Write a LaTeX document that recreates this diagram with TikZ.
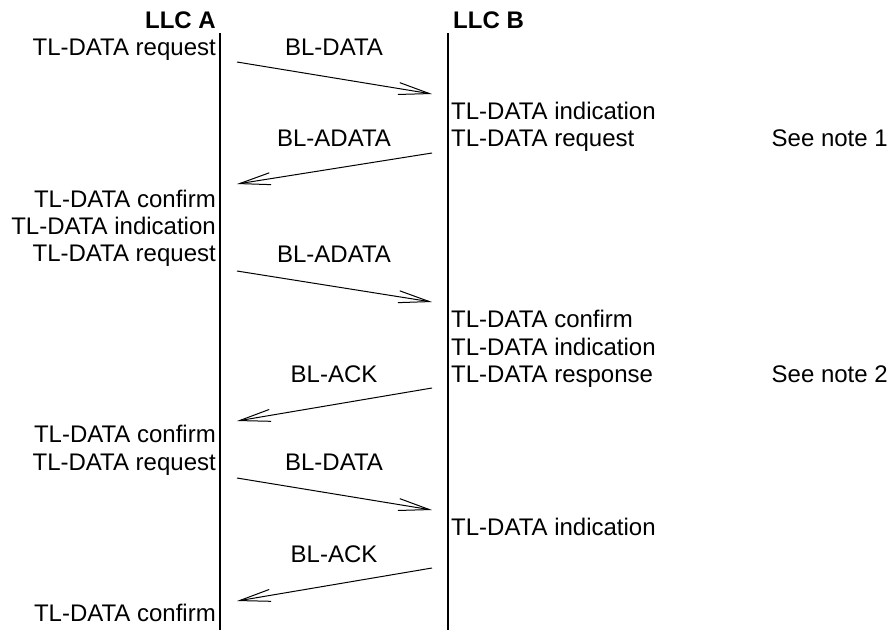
\documentclass[tikz,border=0pt]{standalone}
\usepackage{fontspec}
\setmainfont{Liberation Sans}
\usetikzlibrary{arrows.meta}

\begin{document}
\begin{tikzpicture}[x=1pt,y=-1pt,font=\fontsize{24}{28}\selectfont,
    every node/.style={inner sep=0pt},
    primA/.style={anchor=base east},
    primB/.style={anchor=base west},
    pdu/.style={anchor=base},
    head/.style={font=\fontsize{24}{28}\selectfont\bfseries},
    life/.style={line width=2.2pt},
    msg/.style={line width=1pt,-{Straight Barb[length=31pt,width=12pt]}}]
        \useasboundingbox (0,0) rectangle (891,630);
        % entities and lifelines
        \node[primA,head] (llcA) at (216,28) {LLC A};
        \node[primB,head] (llcB) at (453,28) {LLC B};
        \coordinate (Atop) at (220,33);
        \coordinate (Abot) at (220,630);
        \coordinate (Btop) at (448,33);
        \coordinate (Bbot) at (448,630);
        \draw[life] (Atop) -- (Abot);
        \draw[life] (Btop) -- (Bbot);
        % primitives at LLC A
        \node[primA] (reqA1) at (216,55) {TL-DATA request};
        \node[primA] (cnfA1) at (216,207) {TL-DATA confirm};
        \node[primA] (indA1) at (216,234) {TL-DATA indication};
        \node[primA] (reqA2) at (216,261) {TL-DATA request};
        \node[primA] (cnfA2) at (216,442) {TL-DATA confirm};
        \node[primA] (reqA3) at (216,470) {TL-DATA request};
        \node[primA] (cnfA3) at (216,621) {TL-DATA confirm};
        % primitives at LLC B
        \node[primB] (indB1) at (451,119) {TL-DATA indication};
        \node[primB] (reqB1) at (451,146) {TL-DATA request};
        \node[primB] (cnfB1) at (451,327) {TL-DATA confirm};
        \node[primB] (indB2) at (451,355) {TL-DATA indication};
        \node[primB] (rspB1) at (451,382) {TL-DATA response};
        \node[primB] (indB3) at (451,535) {TL-DATA indication};
        \node[anchor=base east] (note1) at (888,146) {See note 1};
        \node[anchor=base east] (note2) at (888,382) {See note 2};
        % PDUs
        \node[pdu] (pdu1) at (334,55) {BL-DATA};
        \node[pdu] (pdu2) at (334,146) {BL-ADATA};
        \node[pdu] (pdu3) at (334,262) {BL-ADATA};
        \node[pdu] (pdu4) at (334,382) {BL-ACK};
        \node[pdu] (pdu5) at (334,470) {BL-DATA};
        \node[pdu] (pdu6) at (334,562) {BL-ACK};
        \coordinate (a1) at (237,62);   \coordinate (b1) at (432,94);
        \coordinate (b2) at (432,153);  \coordinate (a2) at (237,184);
        \coordinate (a3) at (237,271);  \coordinate (b3) at (432,302);
        \coordinate (b4) at (432,388);  \coordinate (a4) at (237,421);
        \coordinate (a5) at (237,478);  \coordinate (b5) at (432,510);
        \coordinate (b6) at (432,568);  \coordinate (a6) at (237,601);
        \draw[msg] (a1) -- (b1);
        \draw[msg] (b2) -- (a2);
        \draw[msg] (a3) -- (b3);
        \draw[msg] (b4) -- (a4);
        \draw[msg] (a5) -- (b5);
        \draw[msg] (b6) -- (a6);
      \end{tikzpicture}
\end{document}
